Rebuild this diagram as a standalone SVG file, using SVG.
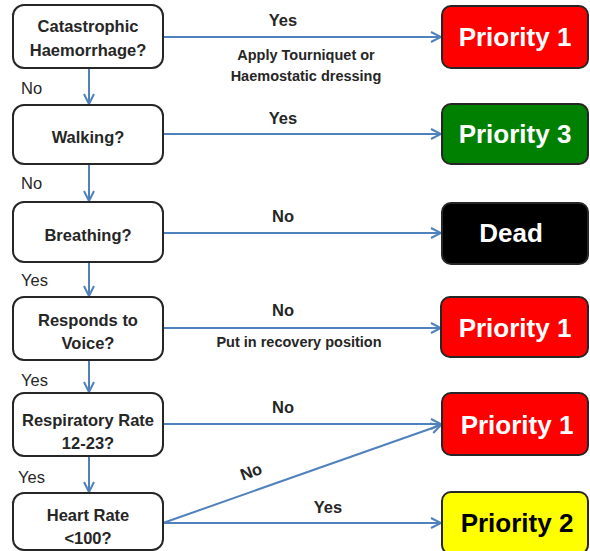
<svg xmlns="http://www.w3.org/2000/svg" width="590" height="551" viewBox="0 0 590 551">
<defs>
<marker id="arr" viewBox="0 0 12 12" refX="11" refY="6" markerWidth="12" markerHeight="12" markerUnits="userSpaceOnUse" orient="auto">
<path d="M1,1 L11,6 L1,11" fill="none" stroke="#4f81bd" stroke-width="2"/>
</marker>
<style>
.q{fill:#fff;stroke:#262626;stroke-width:2}
.qt{font-family:"Liberation Sans",Arial,sans-serif;font-weight:bold;font-size:16.5px;fill:#262626;text-anchor:middle}
.lab{font-family:"Liberation Sans",Arial,sans-serif;font-weight:bold;font-size:16.5px;fill:#262626}
.lc{text-anchor:middle}
.sm{font-family:"Liberation Sans",Arial,sans-serif;font-weight:bold;font-size:14.5px;fill:#262626;text-anchor:middle}
.lft{font-family:"Liberation Sans",Arial,sans-serif;font-size:16.5px;fill:#262626}
.r{stroke:#262626;stroke-width:2}
.rt{font-family:"Liberation Sans",Arial,sans-serif;font-weight:bold;font-size:26px;text-anchor:middle}
.c{fill:none;stroke:#4f81bd;stroke-width:2;marker-end:url(#arr)}
</style>
</defs>
<rect width="590" height="551" fill="#fff"/>
<g id="connectors">
<path class="c" d="M163,37 H441"/>
<path class="c" d="M163,134 H441"/>
<path class="c" d="M163,233 H441"/>
<path class="c" d="M163,328 H441"/>
<path class="c" d="M163,424 H441"/>
<path class="c" d="M163,523 L441,425"/>
<path class="c" d="M163,523 H441"/>
<path class="c" d="M89,68 V104"/>
<path class="c" d="M89,164 V201"/>
<path class="c" d="M89,262 V296"/>
<path class="c" d="M89,360 V392"/>
<path class="c" d="M89,456 V492"/>
</g>
<g id="q1"><rect class="q" x="13" y="5" width="150" height="63" rx="11"/><text class="qt" x="88" y="32">Catastrophic</text><text class="qt" x="88" y="56">Haemorrhage?</text></g>
<g id="q2"><rect class="q" x="13" y="105" width="150" height="59" rx="11"/><text class="qt" x="88" y="143">Walking?</text></g>
<g id="q3"><rect class="q" x="13" y="202" width="150" height="60" rx="11"/><text class="qt" x="88" y="241">Breathing?</text></g>
<g id="q4"><rect class="q" x="13" y="297" width="150" height="63" rx="11"/><text class="qt" x="88" y="326">Responds to</text><text class="qt" x="88" y="349">Voice?</text></g>
<g id="q5"><rect class="q" x="13" y="393" width="150" height="63" rx="11"/><text class="qt" x="88" y="426">Respiratory Rate</text><text class="qt" x="88" y="449">12-23?</text></g>
<g id="q6"><rect class="q" x="13" y="493" width="150" height="57" rx="11"/><text class="qt" x="88" y="521">Heart Rate</text><text class="qt" x="88" y="544">&lt;100?</text></g>
<g id="p1a"><rect class="r" x="442" y="6" width="146" height="62" rx="9" fill="#ff0000"/><text class="rt" x="515" y="46" fill="#fff">Priority 1</text></g>
<g id="p3"><rect class="r" x="442" y="104" width="146" height="60" rx="9" fill="#008000"/><text class="rt" x="515" y="143" fill="#fff">Priority 3</text></g>
<g id="dead"><rect class="r" x="442" y="203" width="146" height="61" rx="9" fill="#000"/><text class="rt" x="511" y="242" fill="#fff">Dead</text></g>
<g id="p1b"><rect class="r" x="441" y="297" width="147" height="60" rx="9" fill="#ff0000"/><text class="rt" x="515" y="337" fill="#fff">Priority 1</text></g>
<g id="p1c"><rect class="r" x="442" y="393" width="146" height="62" rx="9" fill="#ff0000"/><text class="rt" x="517" y="434" fill="#fff">Priority 1</text></g>
<g id="p2"><rect class="r" x="442" y="492" width="146" height="62" rx="9" fill="#ffff00"/><text class="rt" x="517" y="532" fill="#000">Priority 2</text></g>
<g id="labels">
<text class="lab lc" x="283" y="26">Yes</text>
<text class="sm" x="306" y="60">Apply Tourniquet or</text>
<text class="sm" x="306" y="81">Haemostatic dressing</text>
<text class="lab lc" x="283" y="124">Yes</text>
<text class="lab lc" x="283" y="222">No</text>
<text class="lab lc" x="283" y="316">No</text>
<text class="sm" x="299" y="347">Put in recovery position</text>
<text class="lab lc" x="283" y="413">No</text>
<text class="lab lc" x="0" y="0" transform="translate(253,477) rotate(-20)">No</text>
<text class="lab lc" x="328" y="513">Yes</text>
<text class="lft" x="21" y="94">No</text>
<text class="lft" x="21" y="189">No</text>
<text class="lft" x="21" y="286">Yes</text>
<text class="lft" x="21" y="386">Yes</text>
<text class="lft" x="18" y="483">Yes</text>
</g>
</svg>
